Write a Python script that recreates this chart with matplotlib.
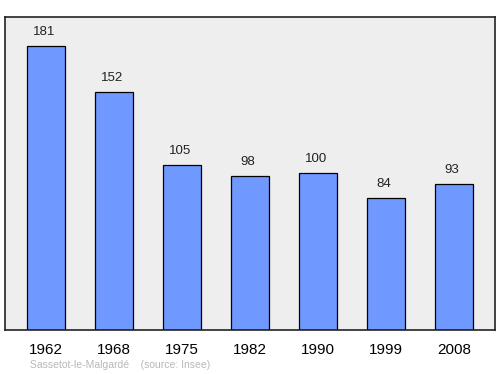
import matplotlib
matplotlib.use("Agg")
import matplotlib.pyplot as plt

plt.rcParams['font.family'] = ['Liberation Sans', 'DejaVu Sans']

years = ["1962", "1968", "1975", "1982", "1990", "1999", "2008"]
population = [181, 152, 105, 98, 100, 84, 93]
source_text = "Sassetot-le-Malgardé    (source: Insee)"

fig = plt.figure(figsize=(5.0, 3.74), dpi=100)
ax = fig.add_axes([0.01, 1 - 330/374, 0.98, (330 - 17)/374])
ax.set_facecolor("#eeeeee")

x = list(range(len(years)))
ax.bar(x, population, width=0.56, color="#7099ff", edgecolor="black", linewidth=0.9, zorder=2)
for xi, v in zip(x, population):
    ax.text(xi - 0.03, v + 5, str(v), ha="center", va="bottom", fontsize=9.5, color="#222222")

ax.set_xlim(-0.6, 6.6)
ax.set_ylim(0, 199.5)
ax.set_yticks([])
ax.set_xticks(x)
ax.set_xticklabels(years, fontsize=11)
ax.tick_params(axis="x", length=0, pad=9)
for s in ax.spines.values():
    s.set_linewidth(1.2)
    s.set_color("#222222")

fig.text(30/500, 1 - 365/374, source_text, fontsize=7.5, color="#b8b8b8", va="center", ha="left")
fig.savefig("out.png", dpi=100)
